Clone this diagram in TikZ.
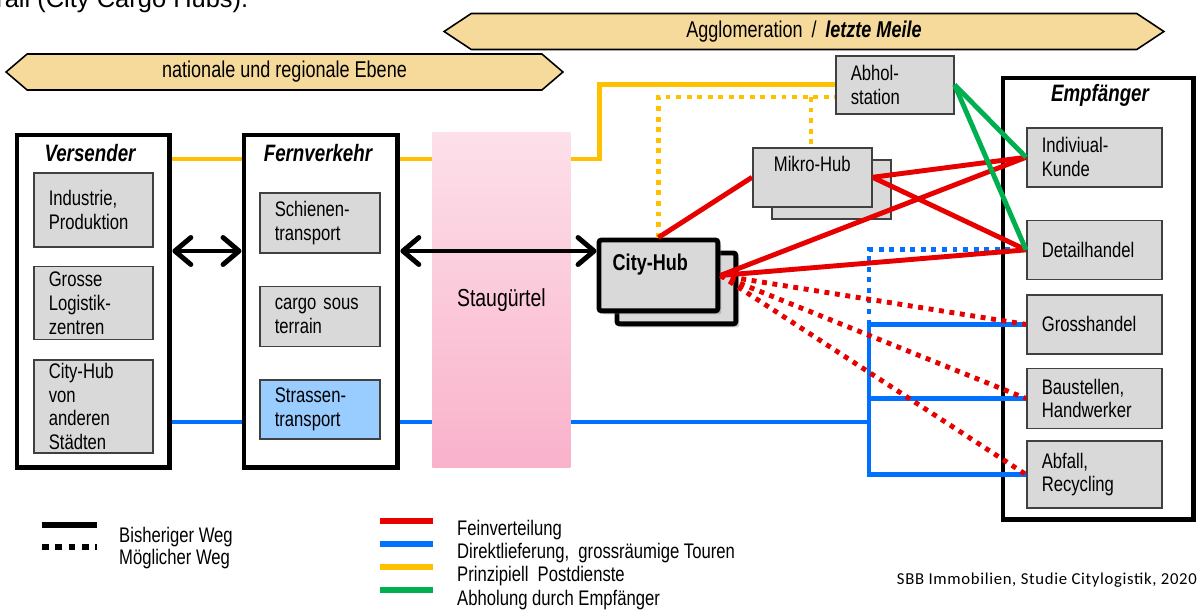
\documentclass[tikz,border=0pt]{standalone}
\usepackage{fontspec}
\setmainfont{Liberation Sans}[FakeStretch=0.79]
\newfontfamily\fliesstext{Liberation Sans}
\newfontfamily\quelle{Carlito}[LetterSpace=4]
\usetikzlibrary{positioning, calc, shapes.arrows, shadows, arrows.meta}

\definecolor{kastengrau}{RGB}{217,217,217}
\definecolor{rahmengrau}{RGB}{64,64,64}
\definecolor{strassenblau}{RGB}{153,204,255}
\definecolor{bandgelb}{RGB}{245,218,155}
\definecolor{liniengelb}{RGB}{255,192,0}
\definecolor{linienblau}{RGB}{0,112,255}
\definecolor{linienrot}{RGB}{230,0,0}
\definecolor{liniengruen}{RGB}{0,176,80}
\definecolor{stauhell}{RGB}{253,224,233}
\definecolor{staudunkel}{RGB}{248,166,196}
\definecolor{staumittel}{RGB}{249,178,203}

\begin{document}
\begin{tikzpicture}[x=0.02cm, y=-0.02cm, node distance=0.64cm,
    every node/.style={font=\fontsize{12}{13.6}\selectfont},
    band/.style={double arrow, draw, fill=bandgelb, double arrow head extend=0pt, minimum width=0.72cm, inner sep=0pt, line width=0.9pt, font=\fontsize{13}{15}\selectfont},
    rahmen/.style={draw, line width=2.8pt, fill=white, anchor=north west, minimum width=3.06cm, minimum height=6.66cm},
    titel/.style={font=\fontsize{13.5}{15}\selectfont\bfseries\itshape},
    kasten/.style={draw=rahmengrau, line width=0.9pt, fill=kastengrau, inner xsep=0.3cm, inner ysep=1pt, align=left, text width=#1},
    kasten/.default=1.8cm,
    hubkasten/.style={draw, line width=2.8pt, fill=kastengrau, rounded corners=1.5pt, inner sep=0pt, minimum width=2.38cm, minimum height=1.42cm, anchor=north west, drop shadow={opacity=0.35, shadow xshift=2pt, shadow yshift=-2pt}},
    linie/.style={line width=2.8pt},
    punktiert/.style={line width=2.8pt, dash pattern=on 2.8pt off 3.2pt},
    pfeil/.style={line width=2.8pt, {Straight Barb[round, length=0.32cm, width=0.54cm]}-{Straight Barb[round, length=0.32cm, width=0.54cm]}}]

    \useasboundingbox (0,0) rectangle (1203,613);

    \node[anchor=base west, inner sep=0pt, font=\fliesstext\fontsize{14.5}{17}\selectfont] (kopf) at (-4,7) {rail (City Cargo Hubs).};

    \node[band, minimum height=14.4cm, double arrow tip angle=67] (agglo) at (804,31.5) {Agglomeration \,/\, \textbf{\textit{letzte Meile}}};
    \node[band, minimum height=11.14cm, double arrow tip angle=81] (ebene) at (284.5,72) {nationale und regionale Ebene};

    \node[rahmen] (vers) at (14.5,132.5) {};
    \node[titel] (verstitel) at (90,153) {Versender};
    \node[kasten=1.78cm, minimum height=1.48cm, anchor=north west] (industrie) at (33,172) {Industrie,\\Produktion};
    \node[kasten=1.78cm, minimum height=1.46cm, below=0.36cm of industrie] (logistik) {Grosse\\Logistik-\\zentren};
    \node[kasten=1.78cm, minimum height=1.86cm, below=0.38cm of logistik] (andere) {City-Hub\\von\\anderen\\Städten};

    \node[rahmen, minimum width=3.08cm] (fern) at (241.5,132.5) {};
    \node[titel] (ferntitel) at (318,153) {Fernverkehr};
    \node[kasten=1.8cm, minimum height=1.2cm, anchor=north west] (schiene) at (259,192) {Schienen-\\transport};
    \node[kasten=1.8cm, minimum height=1.2cm, below=of schiene] (cargo) {cargo sous\\terrain};
    \node[kasten=1.8cm, minimum height=1.18cm, fill=strassenblau, below=of cargo] (strasse) {Strassen-\\transport};

    \node[rahmen, minimum width=3.82cm, minimum height=8.84cm] (empf) at (1000.5,75.5) {};
    \node[titel] (empftitel) at (1100,95) {Empfänger};
    \node[kasten=2.1cm, minimum height=1.18cm, anchor=north west] (kunde) at (1026,127) {Indiviual-\\Kunde};
    \node[kasten=2.1cm, minimum height=1.18cm, below=of kunde] (detail) {Detailhandel};
    \node[kasten=2.1cm, minimum height=1.18cm, below=0.28cm of detail] (grosshandel) {Grosshandel};
    \node[kasten=2.1cm, minimum height=1.2cm, below=0.26cm of grosshandel] (bau) {Baustellen,\\Handwerker};
    \node[kasten=2.1cm, minimum height=1.34cm, below=0.22cm of bau] (abfall) {Abfall,\\Recycling};

    \node[kasten=1.76cm, minimum height=1.16cm, anchor=north west] (abhol) at (835,55) {Abhol-\\station};

    \node[kasten=1.78cm, minimum height=1.18cm, anchor=north west] (mikrohinten) at (771,159) {};
    \node[kasten=1.78cm, minimum height=1.18cm, anchor=north west, label={[anchor=north, yshift=-0.06cm]north:Mikro-Hub}] (mikro) at (752,147) {};

    \node[hubkasten] (hubhinten) at (614.5,250.5) {};
    \node[hubkasten, label={[anchor=north west, xshift=0.2cm, yshift=-0.2cm, font=\fontsize{13}{15}\selectfont\bfseries]north west:City-Hub}] (hub) at (596.5,237.5) {};

    \coordinate (gelbhoehe) at (0,159);
    \coordinate (pfeilhoehe) at (0,251);
    \coordinate (blauhoehe) at (0,422);
    \coordinate (knoten) at (869,422);
    \coordinate (gelbpunkt) at (811,97);

    \draw[linie, liniengelb] (vers.east |- gelbhoehe) -- (fern.west |- gelbhoehe);
    \draw[linie, liniengelb] (fern.east |- gelbhoehe) -- ++(199,0) |- (abhol.west);
    \draw[punktiert, liniengelb] (hub.north) |- (abhol.west |- gelbpunkt);
    \draw[punktiert, liniengelb] (gelbpunkt) -- (gelbpunkt |- mikro.north);

    \draw[linie, linienblau] (vers.east |- blauhoehe) -- (fern.west |- blauhoehe);
    \draw[linie, linienblau] (fern.east |- blauhoehe) -- (knoten);
    \draw[linie, linienblau] (grosshandel.west) -| (knoten) |- (abfall.west);
    \draw[linie, linienblau] (knoten |- bau.west) -- (bau.west);
    \draw[punktiert, linienblau] (knoten |- grosshandel.west) |- (detail.west);

    \node[top color=stauhell, middle color=staudunkel, bottom color=staumittel, minimum width=2.76cm, minimum height=6.7cm, anchor=north west, font=\fontsize{14}{16}\selectfont] (stau) at (432,132) {Staugürtel};

    \draw[pfeil] (vers.east |- pfeilhoehe) -- (fern.west |- pfeilhoehe);
    \draw[pfeil] (fern.east |- pfeilhoehe) -- (hub.west |- pfeilhoehe);

    \draw[linie, linienrot] (hub.north) -- (mikro.west);
    \draw[linie, linienrot] (hub.east) -- (kunde.west);
    \draw[linie, linienrot] (hub.east) -- (detail.west);
    \draw[linie, linienrot] (mikro.east) -- (kunde.west);
    \draw[linie, linienrot] (mikro.east) -- (detail.west);
    \foreach \ziel in {grosshandel, bau, abfall}
        \draw[punktiert, linienrot] (hub.east) -- (\ziel.west);

    \draw[linie, liniengruen] (abhol.east) -- (kunde.west);
    \draw[linie, liniengruen] (abhol.east) -- (detail.west);

    \coordinate (legschwarz) at (42,525);
    \draw[line width=3pt] (legschwarz) -- ++(55,0);
    \draw[line width=3.2pt, dash pattern=on 3.7pt off 3.9pt] ($(legschwarz)+(0,22)$) -- ++(55,0);
    \node[anchor=west] (bisher) at (113,537) {Bisheriger Weg};
    \node[anchor=west] (moeglich) at (113,559) {Möglicher Weg};

    \coordinate (legfarbe) at (380,521);
    \foreach \farbe [count=\i from 0] in {linienrot, linienblau, liniengelb, liniengruen}
        \draw[line width=3.8pt, \farbe] ($(legfarbe)+(0,23*\i)$) -- ++(53,0);
    \node[anchor=west] (fein) at (451,530) {Feinverteilung};
    \node[anchor=west] (direkt) at (451,553) {Direktlieferung,\ \ grossräumige Touren};
    \node[anchor=west] (post) at (451,576) {Prinzipiell\ \ Postdienste};
    \node[anchor=west] (abholung) at (451,600) {Abholung durch Empfänger};

    \node[anchor=east, font=\quelle\fontsize{9.5}{11}\selectfont] (quelle) at (1203,580) {SBB Immobilien, Studie Citylogistik, 2020};
\end{tikzpicture}
\end{document}
